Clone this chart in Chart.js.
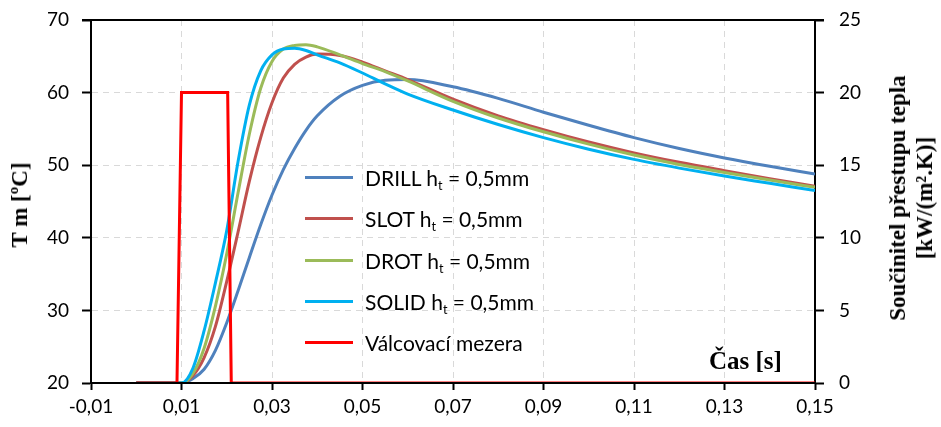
<!DOCTYPE html>
<html>
<head>
<meta charset="utf-8">
<script src="https://cdn.jsdelivr.net/npm/chart.js@4/dist/chart.umd.min.js"></script>
<style>
  body { margin: 0; background: #fff; }
  #wrap { position: relative; width: 941px; height: 427px; }
  .title { position: absolute; font-family: "Liberation Serif", serif; font-weight: bold; font-size: 23px; color: #000; white-space: nowrap; }
  .rot { transform: translate(-50%, -50%) rotate(-90deg); text-align: center; }
  #legend { position: absolute; left: 305px; top: 157px; font-family: Lato, sans-serif; font-size: 21px; color: #000; }
  #legend .row { height: 41.3px; display: flex; align-items: center; white-space: nowrap; }
  #legend .swatch { width: 48px; height: 3px; margin-right: 12px; flex: none; }
  #legend sub { font-size: 0.6em; vertical-align: -0.3em; line-height: 0; }
</style>
</head>
<body>
<div id="wrap">
  <canvas id="mycanvas" width="941" height="427"></canvas>
  <div class="title rot" style="left:20px; top:205px;">T m [ºC]</div>
  <div class="title rot" style="left:911px; top:198px; line-height:27px;">Součinitel přestupu tepla<br>[kW/(m².K)]</div>
  <div class="title" style="left:709px; top:347px; font-size:25px;">Čas [s]</div>
  <div id="legend"></div>
</div>
<script>
var time = [0, 0.01, 0.0125, 0.015, 0.0175, 0.02, 0.0225, 0.025, 0.0275, 0.03, 0.0325, 0.035, 0.0375, 0.04,
            0.045, 0.05, 0.055, 0.06, 0.07, 0.08, 0.09, 0.1, 0.11, 0.12, 0.13, 0.14, 0.15];
var drill = [20, 20, 20.6, 21.9, 24.5, 28.3, 32.7, 37.3, 41.8, 45.9, 49.4, 52.3, 54.8, 56.8,
             59.5, 61.0, 61.7, 61.8, 60.8, 59.2, 57.3, 55.5, 53.8, 52.3, 51.0, 49.85, 48.8];
var slot = [20, 20, 21.0, 23.5, 27.8, 34.0, 40.8, 47.8, 53.8, 58.6, 62.0, 63.9, 64.9, 65.3,
            65.1, 64.2, 63.0, 61.8, 59.1, 56.8, 54.9, 53.2, 51.7, 50.4, 49.25, 48.15, 47.1];
var drot = [20, 20, 21.3, 24.8, 30.6, 37.8, 46.2, 54.3, 60.6, 64.3, 66.0, 66.5, 66.6, 66.3,
            65.2, 64.0, 62.9, 61.6, 58.8, 56.5, 54.6, 52.9, 51.4, 50.1, 49.0, 47.95, 46.95];
var solid = [20, 20, 22.0, 27.2, 33.8, 41.0, 50.5, 58.3, 63.0, 65.2, 66.0, 66.1, 65.8, 65.2,
             64.1, 62.7, 61.2, 59.8, 57.6, 55.6, 53.8, 52.2, 50.8, 49.6, 48.5, 47.5, 46.5];

// rolling gap signal (right axis)
var gapTime = [0, 0.009, 0.01, 0.0202, 0.021, 0.15];
var gapValue = [0, 0, 20, 20, 0, 0];

var xTicks = [-0.01, 0.01, 0.03, 0.05, 0.07, 0.09, 0.11, 0.13, 0.15];

var seriesNames = ["DRILL", "SLOT", "DROT", "SOLID", "Válcovací mezera"];
var seriesColors = ["#4F81BD", "#C0504D", "#9BBB59", "#00B0F0", "#FF0000"];

function pts(xs, ys) {
    var out = [];
    for (var i in xs) out.push({x: xs[i], y: ys[i]});
    return out;
}

function tempSet(i, values) {
    return {
        label: seriesNames[i] + " ht = 0,5mm",
        data: pts(time, values),
        borderColor: seriesColors[i],
        backgroundColor: seriesColors[i],
        borderWidth: 3,
        pointRadius: 0,
        fill: false,
        cubicInterpolationMode: "monotone",
        yAxisID: "y",
        order: 5 - i
    };
}

// html legend with subscript
var legendHtml = "";
for (var i = 0; i < 5; i++) {
    var txt = i < 4 ? seriesNames[i] + " h<sub>t</sub> = 0,5mm" : seriesNames[i];
    legendHtml += '<div class="row"><div class="swatch" style="background:' + seriesColors[i] + '"></div><span>' + txt + '</span></div>';
}
document.getElementById("legend").innerHTML = legendHtml;

var frame = {
    id: "frame",
    afterDatasetsDraw: function(chart) {
        var a = chart.chartArea, ctx = chart.ctx;
        ctx.save();
        ctx.strokeStyle = "#000";
        ctx.lineWidth = 2;
        ctx.beginPath();
        ctx.moveTo(a.left - 9, a.top);
        ctx.lineTo(a.right + 9, a.top);
        ctx.moveTo(a.left, a.bottom);
        ctx.lineTo(a.right, a.bottom);
        ctx.stroke();
        ctx.restore();
    }
};

function fitSide(w) {
    return function(s) {
        s.width = w;
        s.paddingTop = 0;
        s.paddingBottom = 0;
    };
}

var tickFont = {family: "Lato", size: 19};

new Chart(document.getElementById("mycanvas"), {
    type: "line",
    data: {
        datasets: [
            tempSet(0, drill),
            tempSet(1, slot),
            tempSet(2, drot),
            tempSet(3, solid),
            {
                label: seriesNames[4],
                data: pts(gapTime, gapValue),
                borderColor: seriesColors[4],
                backgroundColor: seriesColors[4],
                borderWidth: 3,
                pointRadius: 0,
                fill: false,
                tension: 0,
                yAxisID: "y1",
                order: 0
            }
        ]
    },
    options: {
        responsive: false,
        animation: false,
        devicePixelRatio: 1,
        layout: {padding: {top: 20, left: 0, right: 0, bottom: 0}},
        plugins: {legend: {display: false}, tooltip: {enabled: false}},
        scales: {
            x: {
                type: "linear",
                min: -0.01,
                max: 0.15,
                afterBuildTicks: function(s) { s.ticks = xTicks.map(function(v) { return {value: v}; }); },
                afterFit: function(s) { s.height = 44; },
                ticks: {
                    font: tickFont, color: "#000", padding: 5, maxRotation: 0, autoSkip: false,
                    callback: function(v) { return v.toFixed(2).replace(".", ","); }
                },
                grid: {color: "#d9d9d9", tickColor: "#000", tickLength: 7, tickWidth: 2},
                border: {color: "#000", width: 2, dash: [6, 5]}
            },
            y: {
                position: "left",
                min: 20,
                max: 70,
                afterFit: fitSide(91),
                ticks: {stepSize: 10, font: tickFont, color: "#000", padding: 13},
                grid: {color: "#d9d9d9", tickColor: "#000", tickLength: 9, tickWidth: 2},
                border: {color: "#000", width: 2, dash: [6, 5]}
            },
            y1: {
                position: "right",
                min: 0,
                max: 25,
                afterFit: fitSide(126),
                ticks: {stepSize: 5, font: tickFont, color: "#000", padding: 15},
                grid: {drawOnChartArea: false, tickColor: "#000", tickLength: 9, tickWidth: 2},
                border: {color: "#000", width: 2}
            }
        }
    },
    plugins: [frame]
});
</script>
</body>
</html>
